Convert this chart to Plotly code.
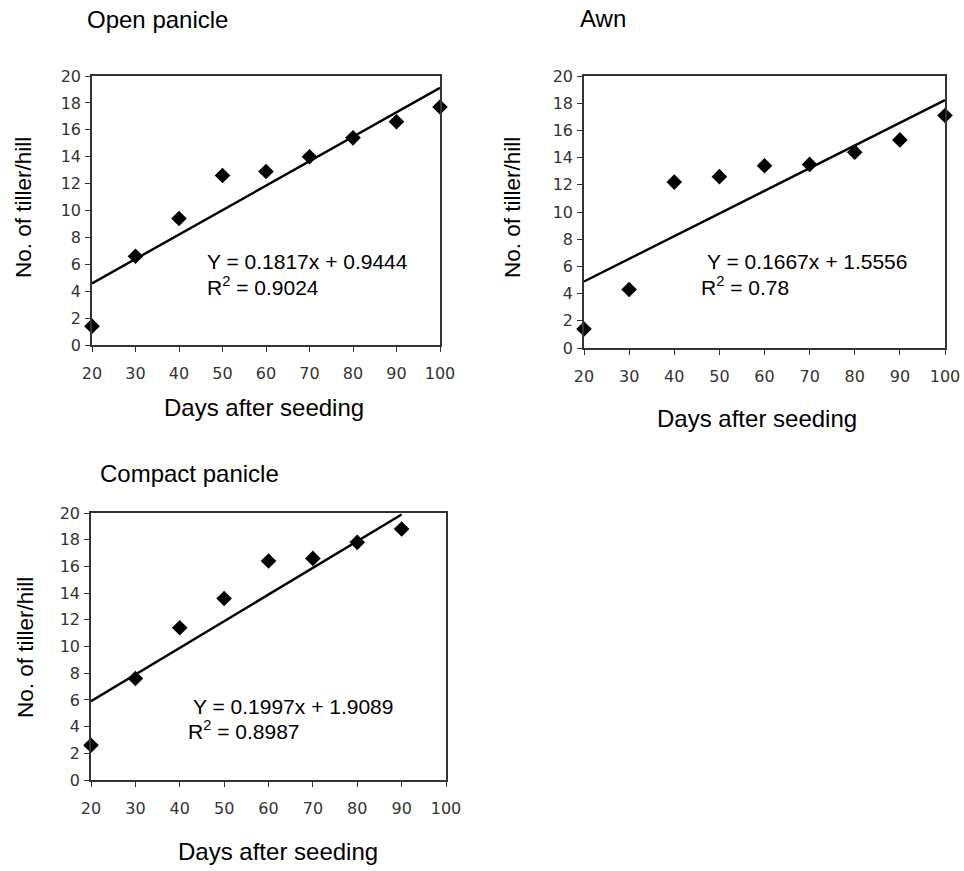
import plotly.graph_objects as go

# ---- data ----
days = [20, 30, 40, 50, 60, 70, 80, 90, 100]
days_compact = [20, 30, 40, 50, 60, 70, 80, 90]
open_panicle = [1.4, 6.6, 9.4, 12.6, 12.9, 14.0, 15.4, 16.6, 17.7]
awn = [1.4, 4.3, 12.2, 12.6, 13.4, 13.5, 14.4, 15.3, 17.1]
compact_panicle = [2.6, 7.6, 11.4, 13.6, 16.4, 16.6, 17.8, 18.8]

panel_titles = ["Open panicle", "Awn", "Compact panicle"]
slopes = [0.1817, 0.1667, 0.1997]
intercepts = [0.9444, 1.5556, 1.9089]
r_squared = ["0.9024", "0.78", "0.8987"]
x_ticks = [20, 30, 40, 50, 60, 70, 80, 90, 100]
y_ticks = [0, 2, 4, 6, 8, 10, 12, 14, 16, 18, 20]
x_title = "Days after seeding"
y_title = "No. of tiller/hill"

W, H = 964, 871


def px(x):
    return x / W


def py(y):
    return 1 - y / H


# panel boxes in window pixels: left, right, top, bottom
boxes = [(92, 440, 76, 345), (584, 945, 76, 348), (91, 446, 513, 780)]
# title positions (left x, center y)
title_pos = [(85, 19), (578, 18), (98, 473)]
# x-title centre, y-title centre
xtitle_pos = [(264, 407), (757, 418), (278, 851)]
ytitle_pos = [(23, 208), (512, 208), (25, 648)]
# equation (left x, y) and R2 (left x, y)
eq_pos = [(205, 262), (705, 262), (191, 706)]
r2_pos = [(205, 286), (699, 286), (186, 730)]

series = [(days, open_panicle), (days, awn), (days_compact, compact_panicle)]

fig = go.Figure()
FONT = "Liberation Sans, Arial, sans-serif"
TICKFONT = dict(family="DejaVu Sans, sans-serif", size=16, color="#333")
annotations = []

for i, ((xs, ys), box) in enumerate(zip(series, boxes)):
    n = "" if i == 0 else str(i + 1)
    xa, ya = "x" + n, "y" + n
    l, r, t, b = box
    fig.add_trace(go.Scatter(
        x=xs, y=ys, mode="markers", xaxis=xa, yaxis=ya,
        marker=dict(symbol="diamond", size=12, color="black"),
        cliponaxis=False, showlegend=False))
    lx = [xs[0], xs[-1]]
    ly = [slopes[i] * v + intercepts[i] for v in lx]
    fig.add_trace(go.Scatter(
        x=lx, y=ly, mode="lines", xaxis=xa, yaxis=ya,
        line=dict(color="black", width=2.4),
        cliponaxis=False, showlegend=False))
    axis_common = dict(showline=True, linewidth=1.5, linecolor="#333", mirror=True,
                       ticks="outside", ticklen=5, tickwidth=1.2, tickcolor="#333",
                       showgrid=False, zeroline=False, tickfont=TICKFONT,
                       automargin=False)
    fig.update_layout(**{
        "xaxis" + n: dict(domain=[px(l), px(r)], range=[20, 100], tickvals=x_ticks,
                          anchor=ya, ticklabelstandoff=8, **axis_common),
        "yaxis" + n: dict(domain=[py(b), py(t)], range=[0, 20], tickvals=y_ticks,
                          anchor=xa, ticklabelstandoff=1, **axis_common),
    })
    tx, ty = title_pos[i]
    annotations.append(dict(text=panel_titles[i], x=px(tx), y=py(ty), xref="paper", yref="paper",
                            xanchor="left", yanchor="middle", showarrow=False,
                            font=dict(family=FONT, size=24, color="black")))
    cx, cy = xtitle_pos[i]
    annotations.append(dict(text=x_title, x=px(cx), y=py(cy), xref="paper", yref="paper",
                            xanchor="center", yanchor="middle", showarrow=False,
                            font=dict(family=FONT, size=24, color="black")))
    cx, cy = ytitle_pos[i]
    annotations.append(dict(text=y_title, x=px(cx), y=py(cy), xref="paper", yref="paper",
                            xanchor="center", yanchor="middle", showarrow=False, textangle=-90,
                            font=dict(family=FONT, size=22.5, color="black")))
    ex, ey = eq_pos[i]
    annotations.append(dict(text=f"Y = {slopes[i]:.4f}x + {intercepts[i]:.4f}",
                            x=px(ex), y=py(ey), xref="paper", yref="paper",
                            xanchor="left", yanchor="middle", showarrow=False,
                            font=dict(family=FONT, size=21, color="black")))
    rx, ry = r2_pos[i]
    annotations.append(dict(text=f"R<sup>2</sup> = {r_squared[i]}",
                            x=px(rx), y=py(ry), xref="paper", yref="paper",
                            xanchor="left", yanchor="middle", showarrow=False,
                            font=dict(family=FONT, size=21, color="black")))

fig.update_layout(width=W, height=H, autosize=False,
                  margin=dict(l=0, r=0, t=0, b=0, autoexpand=False),
                  paper_bgcolor="white", plot_bgcolor="white",
                  annotations=annotations)

# remove the default page margin so the 964x871 figure fills the window exactly
fig.write_html("out.html",
               config={"displayModeBar": False},
               post_script="document.body.style.margin='0';document.body.style.overflow='hidden';")
